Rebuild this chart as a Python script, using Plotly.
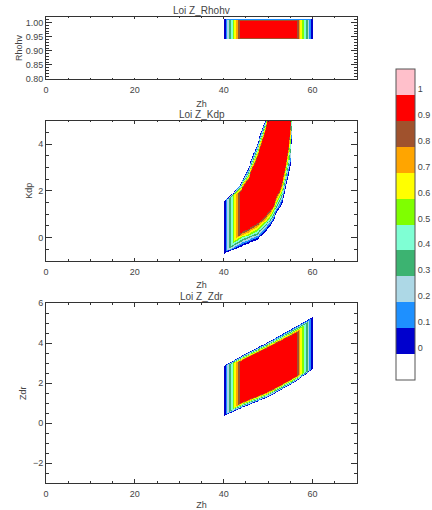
import numpy as np
import plotly.graph_objects as go

# ---------------- data ----------------
level_bounds = [-0.1, 0.0, 0.1, 0.2, 0.3, 0.4, 0.5, 0.6, 0.7, 0.8, 0.9, 1.0, 1.1]
level_colors = ["#FFFFFF", "#0000CD", "#1E90FF", "#ADD8E6", "#3CB371", "#7FFFD4",
                "#7FFF00", "#FFFF00", "#FFA500", "#A0522D", "#FF0000", "#FFC0CB"]
cbar_tickvals = [0.0, 0.1, 0.2, 0.3, 0.4, 0.5, 0.6, 0.7, 0.8, 0.9, 1.0]
cbar_ticktext = ["0", "0.1", "0.2", "0.3", "0.4", "0.5", "0.6", "0.7", "0.8", "0.9", "1"]

titles = ["Loi Z_Rhohv", "Loi Z_Kdp", "Loi Z_Zdr"]
y_titles = ["Rhohv", "Kdp", "Zdr"]
x_title = "Zh"
x_range = [0, 70]
y_ranges = [[0.80, 1.02], [-1.0, 5.0], [-3.0, 6.0]]

# Rhohv law: trapezoid in Zh, narrow band in Rhohv
rhohv_zh_trap = [40.0, 44.0, 56.0, 60.0]
rhohv_trap = [0.942, 0.946, 1.008, 1.012]

# Kdp law: left ramp in Zh, lower / upper bounding curves in Kdp
kdp_zh_ramp = [40.0, 44.0]
kdp_lo_out_zh = [40.0, 40.3, 43.65, 47.4, 50.4, 53.4, 54.9, 55.3, 56.0]
kdp_lo_out = [-0.72, -0.69, -0.40, -0.12, 0.45, 1.60, 3.03, 5.00, 8.0]
kdp_lo_in_zh = [40.0, 42.0, 44.0, 45.2, 48.15, 50.8, 52.65, 53.8, 54.5, 54.9, 56.0]
kdp_lo_in = [-0.30, 0.00, 0.30, 0.39, 0.74, 1.31, 2.17, 3.03, 4.03, 4.97, 10.0]
kdp_hi_in_zh = [40.0, 44.0, 44.4, 45.5, 47.0, 48.5, 49.8, 52.0]
kdp_hi_in = [1.30, 2.00, 2.10, 2.40, 3.10, 3.90, 4.90, 8.0]
kdp_hi_out_zh = [40.0, 40.3, 41.0, 43.65, 45.5, 47.4, 49.3, 52.0]
kdp_hi_out = [1.55, 1.60, 1.68, 2.25, 2.95, 3.95, 5.03, 9.0]

# Zdr law: trapezoid in Zh, sloping band in Zdr
zdr_zh_trap = [40.0, 44.0, 56.0, 60.0]
zdr_bound_zh = [40.0, 44.0, 50.0, 56.0, 60.0]
zdr_lo_out = [0.35, 0.75, 1.30, 2.05, 2.70]
zdr_lo_in = [0.62, 1.05, 1.60, 2.32, 2.95]
zdr_hi_in = [2.60, 3.08, 3.75, 4.43, 4.95]
zdr_hi_out = [2.85, 3.36, 4.05, 4.80, 5.30]

# ---------------- grids / membership ----------------
zh = np.round(np.arange(38.1, 62.0, 0.2), 3)


def ramp_up(v, a, b):
    return np.clip((v - a) / (b - a), 0.0, 1.0)


def ramp_down(v, c, d):
    return np.clip((d - v) / (d - c), 0.0, 1.0)


def finish(m):
    return np.where(m > 0, m, np.nan)


# Rhohv
y_rh = np.round(np.arange(0.8015, 1.02, 0.003), 4)
Z, Y = np.meshgrid(zh, y_rh)
m_rh = np.minimum.reduce([
    ramp_up(Z, rhohv_zh_trap[0], rhohv_zh_trap[1]),
    ramp_down(Z, rhohv_zh_trap[2], rhohv_zh_trap[3]),
    ramp_up(Y, rhohv_trap[0], rhohv_trap[1]),
    ramp_down(Y, rhohv_trap[2], rhohv_trap[3]),
])
m_rh = finish(m_rh)

# Kdp
y_kdp = np.round(np.arange(-0.98, 5.0, 0.04), 3)
Z, Y = np.meshgrid(zh, y_kdp)
lo_o = np.interp(Z, kdp_lo_out_zh, kdp_lo_out)
lo_i = np.interp(Z, kdp_lo_in_zh, kdp_lo_in)
hi_i = np.interp(Z, kdp_hi_in_zh, kdp_hi_in)
hi_o = np.interp(Z, kdp_hi_out_zh, kdp_hi_out)
m_kdp = np.minimum.reduce([
    ramp_up(Z, kdp_zh_ramp[0], kdp_zh_ramp[1]),
    np.clip((Y - lo_o) / (lo_i - lo_o), 0, 1),
    np.clip((hi_o - Y) / (hi_o - hi_i), 0, 1),
])
m_kdp = finish(m_kdp)

# Zdr
y_zdr = np.round(np.arange(-2.975, 6.0, 0.05), 3)
Z, Y = np.meshgrid(zh, y_zdr)
lo_o = np.interp(Z, zdr_bound_zh, zdr_lo_out)
lo_i = np.interp(Z, zdr_bound_zh, zdr_lo_in)
hi_i = np.interp(Z, zdr_bound_zh, zdr_hi_in)
hi_o = np.interp(Z, zdr_bound_zh, zdr_hi_out)
m_zdr = np.minimum.reduce([
    ramp_up(Z, zdr_zh_trap[0], zdr_zh_trap[1]),
    ramp_down(Z, zdr_zh_trap[2], zdr_zh_trap[3]),
    np.clip((Y - lo_o) / (lo_i - lo_o), 0, 1),
    np.clip((hi_o - Y) / (hi_o - hi_i), 0, 1),
])
m_zdr = finish(m_zdr)

# ---------------- figure ----------------
W, H = 432, 510
ML, MR, MT, MB = 46, 75, 17, 27
PW, PH = W - ML - MR, H - MT - MB


def dom(top_px, bot_px):
    return [(H - MB - bot_px) / PH, (H - MB - top_px) / PH]


domains = [dom(17, 79), dom(120.7, 260.7), dom(303.3, 483)]

# discrete colorscale
cmin, cmax = level_bounds[0], level_bounds[-1]
cs = []
for i, c in enumerate(level_colors):
    lo = level_bounds[i]
    hi = level_bounds[i + 1]
    if i == len(level_colors) - 2:
        hi = hi + 0.0005
    if i == len(level_colors) - 1:
        lo = lo + 0.0005
    cs.append([(lo - cmin) / (cmax - cmin), c])
    cs.append([(hi - cmin) / (cmax - cmin), c])
cs[0][0] = 0.0
cs[-1][0] = 1.0

fig = go.Figure()
data_sets = [(y_rh, m_rh), (y_kdp, m_kdp), (y_zdr, m_zdr)]
for k, (yy, mm) in enumerate(data_sets):
    sfx = "" if k == 0 else str(k + 1)
    fig.add_trace(go.Heatmap(x=zh, y=yy, z=mm, coloraxis="coloraxis",
                             zsmooth=False, hoverinfo="skip",
                             xaxis="x" + sfx, yaxis="y" + sfx))

font_fam = "Liberation Sans, Arial, sans-serif"
tick_col = "#333333"
txt_col = "#444444"
x_ticklens = [1.5, 3, 4]
y_dticks = [0.05, 2, 2]
y_minor = [0.01, 0.5, 0.5]
y_fmt = [".2f", "d", "d"]
y_standoffs = [1, 4, 4]

layout = dict(
    width=W, height=H,
    margin=dict(l=ML, r=MR, t=MT, b=MB, autoexpand=False),
    paper_bgcolor="white", plot_bgcolor="white",
    font=dict(family=font_fam, size=9, color=txt_col),
    showlegend=False,
)
annotations = []
for k in range(3):
    sfx = "" if k == 0 else str(k + 1)
    layout["xaxis" + sfx] = dict(
        domain=[0, 1], anchor="y" + sfx, range=x_range,
        tick0=0, dtick=20, ticks="inside", ticklen=x_ticklens[k], tickcolor=tick_col,
        minor=dict(dtick=5, ticks="inside", ticklen=x_ticklens[k] / 2, tickcolor=tick_col),
        showline=True, linecolor=tick_col, linewidth=1, mirror="ticks",
        showgrid=False, zeroline=False, automargin=False,
        ticklabelstandoff=2,
        title=dict(text=x_title, standoff=6, font=dict(size=9)),
        tickfont=dict(size=9),
    )
    layout["yaxis" + sfx] = dict(
        domain=domains[k], anchor="x" + sfx, range=y_ranges[k],
        tick0=0, dtick=y_dticks[k], tickformat=y_fmt[k],
        ticks="inside", ticklen=6, tickcolor=tick_col,
        minor=dict(dtick=y_minor[k], ticks="inside", ticklen=3, tickcolor=tick_col),
        showline=True, linecolor=tick_col, linewidth=1, mirror="ticks",
        showgrid=False, zeroline=False, automargin=False,
        title=dict(text=y_titles[k], standoff=y_standoffs[k], font=dict(size=9)),
        tickfont=dict(size=9),
    )
    annotations.append(dict(
        text=titles[k], xref="x" + sfx + " domain", yref="y" + sfx + " domain",
        x=0.5, y=1, xanchor="center", yanchor="bottom", yshift=-1,
        showarrow=False, font=dict(size=10, color=txt_col),
    ))
layout["annotations"] = annotations

cb_x0 = (396 - ML) / PW
cb_th = 19
cb_len = (380 - 69.3) / PH
cb_yc = (H - MB - (69.3 + 380) / 2) / PH
layout["coloraxis"] = dict(
    colorscale=cs, cmin=cmin, cmax=cmax,
    colorbar=dict(
        x=cb_x0, xanchor="left", y=cb_yc, yanchor="middle",
        len=cb_len, lenmode="fraction", thickness=cb_th, thicknessmode="pixels",
        outlinewidth=1, outlinecolor="#555555", xpad=0, ypad=0,
        tickvals=cbar_tickvals, ticktext=cbar_ticktext, ticks="",
        ticklabelposition="outside top",
        tickfont=dict(size=9, color=txt_col),
    ),
)

# separator lines between colorbar boxes
shapes = []
cb_y0 = cb_yc - cb_len / 2
for v in level_bounds[1:-1]:
    yv = cb_y0 + (v - cmin) / (cmax - cmin) * cb_len
    shapes.append(dict(type="line", xref="paper", yref="paper",
                       x0=cb_x0, x1=cb_x0 + cb_th / PW, y0=yv, y1=yv,
                       line=dict(color="#333333", width=1)))
layout["shapes"] = shapes

fig.update_layout(**layout)
fig.write_html("out.html", config={"displayModeBar": False},
               post_script="document.body.style.margin='0';")
